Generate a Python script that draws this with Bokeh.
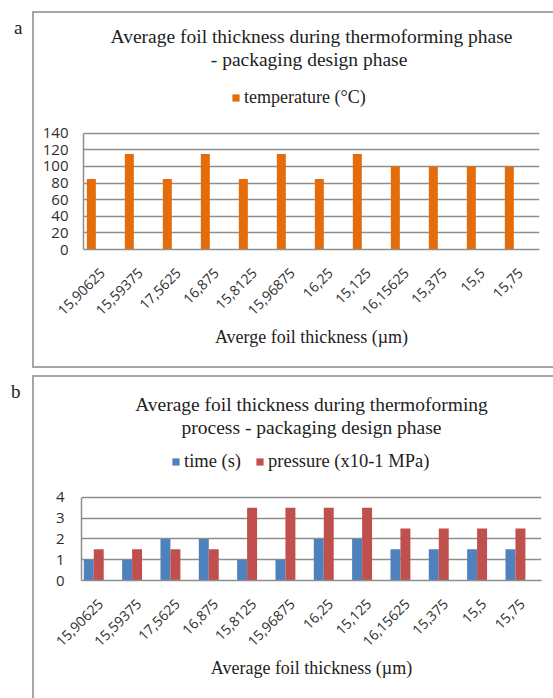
import math
from bokeh.plotting import figure
from bokeh.models import (Range1d, FactorRange, FixedTicker, Legend, LegendItem,
                          Title, Div, Spacer)
from bokeh.layouts import column, row
from bokeh.transform import dodge
from bokeh.embed import file_html
from bokeh.resources import INLINE

# ---------------- data ----------------
categories = ["15,90625", "15,59375", "17,5625", "16,875", "15,8125", "15,96875",
              "16,25", "15,125", "16,15625", "15,375", "15,5", "15,75"]
temperature = [85, 115, 85, 115, 85, 115, 85, 115, 100, 100, 100, 100]
time_s = [1, 1, 2, 2, 1, 1, 2, 2, 1.5, 1.5, 1.5, 1.5]
pressure = [1.5, 1.5, 1.5, 1.5, 3.5, 3.5, 3.5, 3.5, 2.5, 2.5, 2.5, 2.5]
ticks_a = [0, 20, 40, 60, 80, 100, 120, 140]
ticks_b = [0, 1, 2, 3, 4]

title_a1 = "Average foil thickness during thermoforming phase"
title_a2 = "-  packaging design phase"
title_b1 = "Average foil thickness during thermoforming"
title_b2 = "process - packaging design phase"
xlabel_a = "Averge foil thickness (µm)"
xlabel_b = "Average foil thickness (µm)"
legend_a = "temperature (°C)"
legend_b1 = "time (s)"
legend_b2 = "pressure (x10-1 MPa)"

SERIF = "Liberation Serif"
SANS = "Open Sans"
GRID = "#8e8e8e"
BOX = "#a6a6a6"
TXT = "#222222"


def base_fig(w, h, left, right, top, bottom, yrange, ticks, t1, t2, xlabel):
    p = figure(x_range=FactorRange(factors=categories), y_range=Range1d(*yrange),
               width=w, height=h, output_backend="svg", toolbar_location=None,
               min_border_left=left, min_border_right=right,
               min_border_top=top, min_border_bottom=bottom,
               title=t1, styles={"outline": f"2px solid {BOX}"})
    p.title.text_font = SERIF
    p.title.text_font_size = "19.5px"
    p.title.text_font_style = "normal"
    p.title.text_color = TXT
    p.title.align = "center"
    p.title.standoff = 0
    p.add_layout(Title(text=t2, text_font=SERIF, text_font_size="19.5px",
                       text_font_style="normal", text_color=TXT, align="center",
                       standoff=0), "above")
    p.outline_line_color = None
    p.background_fill_color = "white"
    p.border_fill_color = "white"
    p.xgrid.grid_line_color = None
    p.ygrid.grid_line_color = GRID
    p.ygrid.grid_line_width = 1.5
    p.yaxis.ticker = FixedTicker(ticks=ticks)
    p.yaxis.bounds = (ticks[0], ticks[-1])
    for ax in (p.xaxis[0], p.yaxis[0]):
        ax.axis_line_color = GRID
        ax.axis_line_width = 1.5
        ax.major_tick_line_color = None
        ax.minor_tick_line_color = None
        ax.major_tick_out = 0
        ax.major_tick_in = 0
        ax.major_label_text_font = SANS
        ax.major_label_text_color = "#2e2e2e"
    p.yaxis.major_label_text_font_size = "15px"
    p.xaxis.major_label_text_font_size = "14px"
    p.xaxis.major_label_orientation = math.pi / 4
    p.xaxis.major_label_standoff = 21
    p.xaxis.axis_label = xlabel
    p.xaxis.axis_label_text_font = SERIF
    p.xaxis.axis_label_text_font_size = "18px"
    p.xaxis.axis_label_text_font_style = "normal"
    p.xaxis.axis_label_text_color = TXT
    p.xaxis.axis_label_standoff = 4
    return p


def make_legend(items, loc, size):
    return Legend(items=items, location=loc, orientation="horizontal",
                  border_line_color=None, background_fill_alpha=0,
                  padding=0, margin=0, spacing=14, label_standoff=4,
                  glyph_width=9, glyph_height=9, label_height=9,
                  label_text_font=SERIF, label_text_font_size=size,
                  label_text_color=TXT, label_text_baseline="middle")


# ---------------- panel a ----------------
pa = base_fig(519, 353, 49, 14, 56, 117, (0, 216.7), ticks_a, title_a1, title_a2, xlabel_a)
pa.yaxis.major_label_standoff = 15
ra = pa.vbar(x=dodge("cat", -0.294, range=pa.x_range), top="temp", width=0.237,
             source={"cat": categories, "temp": temperature},
             fill_color="#E46C0A", line_color=None)
pa.add_layout(make_legend([LegendItem(label=legend_a, renderers=[ra])], (148, 141), "18px"))

# ---------------- panel b ----------------
pb = base_fig(519, 321, 47, 12, 60, 118, (0, 6.89), ticks_b, title_b1, title_b2, xlabel_b)
pb.yaxis.major_label_standoff = 17
src_b = {"cat": categories, "time": time_s, "pressure": pressure}
rb1 = pb.vbar(x=dodge("cat", -0.31, range=pb.x_range), top="time", width=0.26,
              source=src_b, fill_color="#4F81BD", line_color=None)
rb2 = pb.vbar(x=dodge("cat", -0.05, range=pb.x_range), top="pressure", width=0.26,
              source=src_b, fill_color="#C0504D", line_color=None)
pb.add_layout(make_legend([LegendItem(label=legend_b1, renderers=[rb1]),
                           LegendItem(label=legend_b2, renderers=[rb2])], (90, 108), "18.5px"))

div_a = Div(text=f'<div style="font-family:{SERIF};font-size:19px;line-height:22px;'
                 f'color:{TXT};padding-left:14px;padding-top:4px">a</div>',
            width=34, height=30, margin=0)
div_b = Div(text=f'<div style="font-family:{SERIF};font-size:19px;line-height:22px;'
                 f'color:{TXT};padding-left:11px;padding-top:4px">b</div>',
            width=34, height=30, margin=0)

layout = column(Spacer(height=13), row(div_a, pa), Spacer(height=11), row(div_b, pb))

with open("out.html", "w") as f:
    f.write(file_html(layout, INLINE))
